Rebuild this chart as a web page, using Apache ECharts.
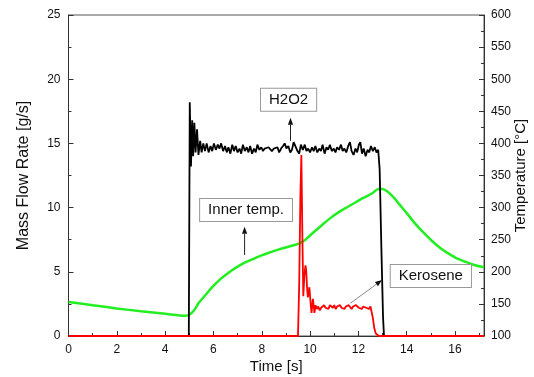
<!DOCTYPE html>
<html>
<head>
<meta charset="utf-8">
<script src="https://cdn.jsdelivr.net/npm/echarts@6/dist/echarts.min.js"></script>
<style>html,body{margin:0;padding:0;background:#fff}#c{width:534px;height:377px}</style>
</head>
<body>
<div id="c"></div>
<script>
// ---- data: [time (s), value] ----
var xTicks = [0, 2, 4, 6, 8, 10, 12, 14, 16];
var h2o2Data = [
[0,0],[4.98,0],[5.02,18.2],[5.07,13.2],[5.12,16.8],[5.16,14.0],[5.21,16.6],[5.26,14.3],[5.32,16.1],[5.38,14.1],
[5.45,15.2],[5.51,14.3],[5.58,15.0],[5.65,14.4],[5.72,15.0],[5.80,14.3],[5.88,14.8],[5.95,14.4],[6.02,15.0],[6.10,14.5],
[6.18,14.9],[6.25,14.6],[6.32,15.0],[6.40,14.4],[6.48,14.8],[6.55,14.3],[6.62,14.7],[6.70,14.2],[6.78,14.9],[6.85,14.4],
[6.92,14.8],[7.00,14.3],[7.08,14.6],[7.15,14.2],[7.22,14.9],[7.30,14.4],[7.38,14.7],[7.45,14.3],[7.52,14.8],[7.60,14.2],
[7.68,14.6],[7.75,14.3],[7.82,14.9],[7.90,14.5],[7.98,14.7],[8.05,14.4],[8.12,14.6],[8.20,14.5],[8.28,14.7],[8.35,14.6],
[8.42,14.4],[8.50,14.6],[8.58,14.5],[8.65,14.7],[8.72,14.3],[8.80,14.6],[8.88,14.8],[8.95,15.0],[9.02,14.6],[9.10,14.8],
[9.18,14.3],[9.25,14.5],[9.32,15.1],[9.40,15.2],[9.48,14.4],[9.55,14.2],[9.62,14.9],[9.70,14.5],[9.78,14.9],[9.85,14.4],
[9.92,14.6],[10.00,14.3],[10.08,14.7],[10.15,14.4],[10.22,14.8],[10.30,14.3],[10.38,14.6],[10.45,14.4],[10.52,14.9],[10.60,14.2],
[10.68,14.7],[10.75,14.5],[10.82,14.9],[10.90,14.4],[10.98,14.6],[11.05,14.3],[11.12,14.7],[11.20,14.5],[11.28,14.9],[11.35,14.4],
[11.42,14.6],[11.50,14.3],[11.58,14.8],[11.65,15.1],[11.72,14.4],[11.80,14.1],[11.88,14.6],[11.95,14.3],[12.02,14.9],[12.08,15.1],
[12.15,14.2],[12.22,14.6],[12.30,14.0],[12.38,14.5],[12.45,14.3],[12.52,14.8],[12.60,14.4],[12.68,14.7],[12.75,14.3],[12.82,14.5],
[12.88,13.0],[12.95,7.0],[13.02,1.5],[13.06,0],[17.2,0]
];
var keroseneData = [
[0,0],[9.50,0],[9.55,4],[9.60,11],[9.64,14.1],[9.68,8],[9.72,3.1],[9.76,4.6],[9.81,5.5],[9.84,5.1],
[9.88,3.6],[9.91,3.0],[9.97,3.8],[10.03,2.4],[10.06,1.8],[10.12,2.9],[10.18,1.8],[10.23,2.4],[10.28,2.1],[10.34,2.3],
[10.40,2.0],[10.46,2.2],[10.52,2.1],[10.58,2.4],[10.64,2.2],[10.70,2.3],[10.76,2.1],[10.82,2.4],[10.88,2.3],[10.94,2.2],
[11.00,2.4],[11.06,2.1],[11.12,2.3],[11.18,2.2],[11.24,2.4],[11.30,2.2],[11.36,2.3],[11.42,2.1],[11.48,2.3],[11.54,2.2],
[11.60,2.4],[11.66,2.3],[11.72,2.1],[11.78,2.3],[11.84,2.2],[11.90,2.4],[11.96,2.3],[12.02,2.2],[12.08,2.3],[12.14,2.1],
[12.20,2.3],[12.26,2.4],[12.32,2.2],[12.38,2.3],[12.44,2.1],[12.50,2.3],[12.54,2.2],[12.60,1.4],[12.66,0.6],[12.72,0.2],
[12.78,0.05],[12.85,0],[17.2,0]
];
var innerTempData = [
[0,153],[1,148],[2,143],[3,138.5],[4,134.5],[4.6,132],[4.85,131.5],[5.0,133],[5.2,140],[5.4,152],
[5.7,165],[5.95,176],[6.3,189],[6.64,199],[7.0,208],[7.33,215],[7.7,221],[8.02,226],[8.4,231],[8.71,235],
[9.1,239],[9.53,244],[9.81,250],[10.1,260],[10.5,273],[10.85,284],[11.19,293],[11.55,301],[11.88,308],[12.2,315],
[12.56,322],[12.84,329],[13.0,329],[13.2,325],[13.46,316],[13.7,305],[14.01,291],[14.35,275],[14.7,261],[15.05,248],
[15.39,237],[15.7,229],[16.07,221],[16.4,216],[16.76,211],[17.2,207]
];
var annotations = [
  {text: 'H2O2',        at: [9.11, 18.4], from: [9.19, 15.2], to: [9.19, 17.0], lineColor: '#222'},
  {text: 'Inner temp.', at: [7.35, 9.81], from: [7.29, 6.31], to: [7.29, 8.5],  lineColor: '#222'},
  {text: 'Kerosene',    at: [15.0, 4.67], from: [11.67, 2.55], to: [12.98, 4.36], lineColor: '#888'}
];

var font = 'Liberation Sans, Arial, sans-serif';
var chart = echarts.init(document.getElementById('c'), null, {renderer: 'canvas'});
var axisLineColor = '#333';
var option = {
  animation: false,
  backgroundColor: '#fff',
  grid: {left: 68.5, right: 50, top: 15, bottom: 41, show: true, borderColor: '#555', borderWidth: 1,
    containLabel: false, outerBoundsMode: 'none'},
  xAxis: {
    type: 'value', min: 0, max: 17.2, interval: 2,
    name: 'Time [s]', nameLocation: 'middle', nameGap: 23, nameMoveOverlap: false,
    nameTextStyle: {fontFamily: font, fontSize: 15, color: '#111'},
    axisLine: {show: true, lineStyle: {color: axisLineColor, width: 1}},
    axisTick: {show: true, inside: true, length: 5, lineStyle: {color: '#333'}},
    minorTick: {show: true, splitNumber: 2, length: 3, lineStyle: {color: '#333'}},
    axisLabel: {fontFamily: font, fontSize: 12, color: '#111', margin: 8,
      formatter: function (v) { return xTicks.indexOf(v) >= 0 ? String(v) : ''; }},
    splitLine: {show: false}
  },
  yAxis: [{
    type: 'value', min: 0, max: 25, interval: 5, position: 'left',
    name: 'Mass Flow Rate [g/s]', nameLocation: 'middle', nameGap: 37, nameRotate: 90, nameMoveOverlap: false,
    nameTextStyle: {fontFamily: font, fontSize: 16, color: '#111'},
    axisLine: {show: true, lineStyle: {color: axisLineColor, width: 1}},
    axisTick: {show: true, inside: true, length: 5, lineStyle: {color: '#333'}},
    minorTick: {show: true, splitNumber: 2, length: 3, lineStyle: {color: '#333'}},
    axisLabel: {fontFamily: font, fontSize: 12, color: '#111', margin: 8},
    splitLine: {show: false}
  }, {
    type: 'value', min: 100, max: 600, interval: 50, position: 'right',
    name: 'Temperature [°C]', nameLocation: 'middle', nameGap: 29, nameRotate: 90, nameMoveOverlap: false,
    nameTextStyle: {fontFamily: font, fontSize: 15, color: '#111'},
    axisLine: {show: true, lineStyle: {color: axisLineColor, width: 1}},
    axisTick: {show: true, inside: true, length: 5, lineStyle: {color: '#333'}},
    minorTick: {show: true, splitNumber: 2, length: 3, lineStyle: {color: '#333'}},
    axisLabel: {fontFamily: font, fontSize: 12, color: '#111', margin: 7},
    splitLine: {show: false}
  }],
  series: [{
    name: 'Inner temp.', type: 'line', yAxisIndex: 1, data: innerTempData,
    showSymbol: false, smooth: 0.3, lineStyle: {color: '#22ee22', width: 2.5}, z: 2
  }, {
    name: 'H2O2', type: 'line', yAxisIndex: 0, data: h2o2Data,
    showSymbol: false, lineStyle: {color: '#000', width: 1.8}, z: 3
  }, {
    name: 'Kerosene', type: 'line', yAxisIndex: 0, data: keroseneData,
    showSymbol: false, lineStyle: {color: '#ff0000', width: 1.8}, z: 4
  }]
};
chart.setOption(option);

function px(p) { return chart.convertToPixel({xAxisIndex: 0, yAxisIndex: 0}, p); }
var graphics = [];
annotations.forEach(function (a) {
  var c = px(a.at), f = px(a.from), t = px(a.to);
  var dx = t[0] - f[0], dy = t[1] - f[1], L = Math.sqrt(dx * dx + dy * dy);
  var ux = dx / L, uy = dy / L, hl = 7, hw = 2.6;
  var bx = t[0] - ux * hl, by = t[1] - uy * hl;
  graphics.push({type: 'line', z: 10, shape: {x1: f[0], y1: f[1], x2: bx, y2: by},
    style: {stroke: a.lineColor, lineWidth: 1}});
  graphics.push({type: 'polygon', z: 10, shape: {points: [[t[0], t[1]], [bx - uy * hw, by + ux * hw], [bx + uy * hw, by - ux * hw]]},
    style: {fill: '#111'}});
  graphics.push({type: 'text', z: 11, x: c[0], y: c[1],
    style: {text: a.text, font: '15px ' + font, fill: '#111', align: 'center', verticalAlign: 'middle',
      backgroundColor: '#fff', borderColor: '#999', borderWidth: 1, padding: [4, 8, 3, 8]}});
});
chart.setOption({graphic: graphics});
</script>
</body>
</html>
